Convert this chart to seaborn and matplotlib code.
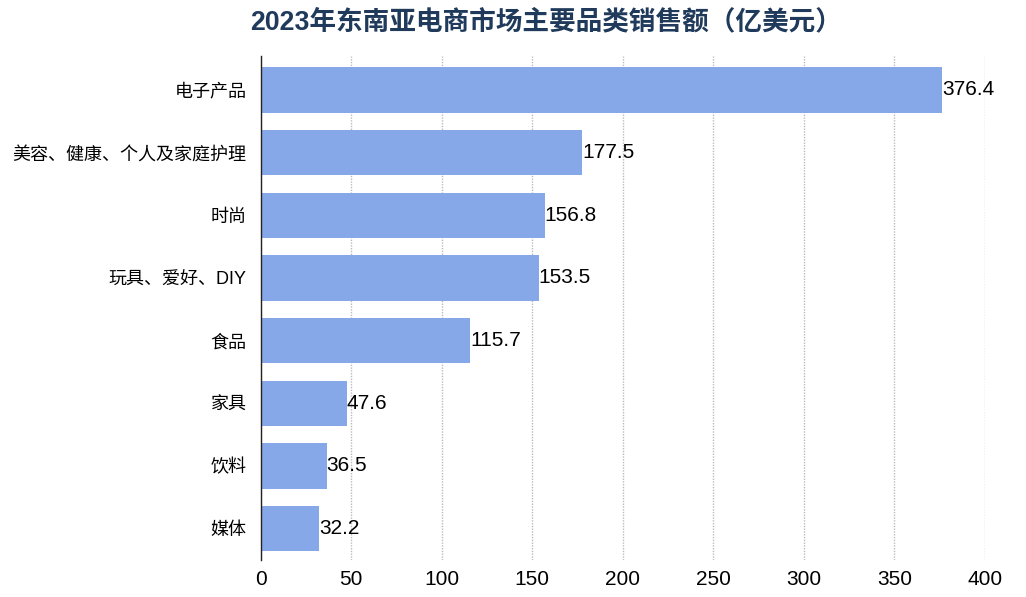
import pandas as pd
import matplotlib.pyplot as plt
import seaborn as sns

categories = ['电子产品', '美容、健康、个人及家庭护理', '时尚', '玩具、爱好、DIY',
              '食品', '家具', '饮料', '媒体']
sales = [376.4, 177.5, 156.8, 153.5, 115.7, 47.6, 36.5, 32.2]
x_ticks = [0, 50, 100, 150, 200, 250, 300, 350, 400]

df = pd.DataFrame({'品类': categories, '销售额': sales})

sns.set_theme(style="white")
plt.rcParams['font.family'] = ['Liberation Sans', 'Noto Sans CJK SC', 'DejaVu Sans']

fig = plt.figure(figsize=(10.26, 5.97), dpi=100)
ax = fig.add_axes([0.254, 0.062, 0.706, 0.844])

sns.barplot(data=df, x='销售额', y='品类', color='#87A8E8', saturation=1,
            width=0.72, linewidth=0, ax=ax, zorder=2)

for i, v in enumerate(sales):
    ax.text(v, i, f'{v}', va='center', ha='left', fontsize=15, color='black', zorder=3)

ax.set_xlim(0, 400)
ax.set_ylim(7.5, -0.54)
ax.set_xticks(x_ticks)
ax.set_xticklabels([str(t) for t in x_ticks], fontsize=15, color='black')
ax.tick_params(axis='y', labelsize=13, labelcolor='black', length=0, pad=10)
ax.tick_params(axis='x', length=0, pad=7)
ax.set_xlabel('')
ax.set_ylabel('')

ax.grid(axis='x', linestyle=(0, (1, 1)), color='#BBBBBB', linewidth=1, zorder=0)
for s in ['top', 'right', 'bottom']:
    ax.spines[s].set_visible(False)
ax.spines['left'].set_color('#222222')
ax.spines['left'].set_linewidth(1)
ax.spines['left'].set_zorder(4)

fig.text(0.532, 0.962, '2023年东南亚电商市场主要品类销售额（亿美元）', ha='center', va='center',
         fontsize=19.2, fontweight='bold', color='#1F3A5A')

fig.savefig('out.png', dpi=100)
